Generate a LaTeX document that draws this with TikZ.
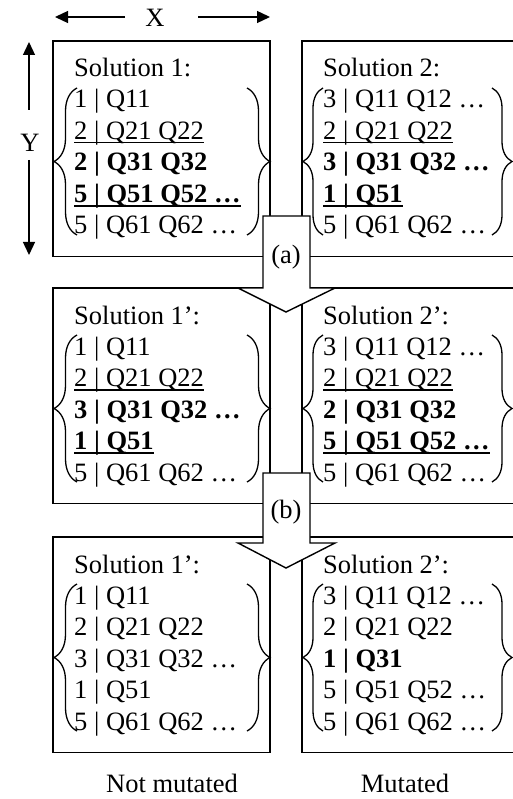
\documentclass[tikz,border=0pt]{standalone}
\usepackage{fontspec}
\setmainfont{Liberation Serif}
\usetikzlibrary{arrows.meta,decorations.pathreplacing}
\newcommand\ulnorm[1]{\setbox0=\hbox{#1}\rlap{\rule[-4pt]{\wd0}{1.2pt}}\box0}
\newcommand\ulbold[1]{\setbox0=\hbox{\bfseries #1}\rlap{\rule[-4.8pt]{\wd0}{1.9pt}}\box0}
\newcommand\solbox[9]{%
  \node[box, anchor=north west] (#1) at (#2,#3) {};
  \node[txt] (#1-t) at (#2+21,#3+36) {#4};
  \node[txt] (#1-1) at (#2+21,#3+67) {#5};
  \node[txt] (#1-2) at (#2+21,#3+98.5) {#6};
  \node[txt] (#1-3) at (#2+21,#3+130) {#7};
  \node[txt] (#1-4) at (#2+21,#3+161.5) {#8};
  \node[txt] (#1-5) at (#2+21,#3+193) {#9};
}
\newcommand\bracepair[4]{%
  \draw[brc=#4] (#1,#3+194) -- (#1,#3+47);
  \draw[brc=#4] (#2,#3+47) -- (#2,#3+194);
}
\begin{document}
\begin{tikzpicture}[x=1pt,y=-1pt,
  box/.style={draw, line width=1.4pt, minimum width=217pt, minimum height=215.5pt, inner sep=0pt, outer sep=0pt},
  txt/.style={anchor=base west, inner sep=0pt, font=\fontsize{26.5}{32}\selectfont},
  lbl/.style={anchor=base, inner sep=0pt, font=\fontsize{26.5}{32}\selectfont},
  brc/.style={line width=1.3pt, decorate, decoration={brace, amplitude=#1}},
  dimarrow/.style={line width=1.3pt, -{Triangle[length=13pt,width=12pt]}},
  blockarrow/.style={draw, fill=white, line width=1.4pt, line join=miter}
]
\useasboundingbox (0,0) rectangle (512,799);

% dimension arrows
\node[lbl] (xlab) at (155,27) {X};
\node[lbl] (ylab) at (30,152) {Y};
\coordinate (xa1) at (125,17); \coordinate (xa2) at (55,17);
\coordinate (xb1) at (198,17); \coordinate (xb2) at (270,17);
\coordinate (ya1) at (29,110); \coordinate (ya2) at (29,42);
\coordinate (yb1) at (29,160); \coordinate (yb2) at (29,255);
\draw[dimarrow] (xa1) -- (xa2);
\draw[dimarrow] (xb1) -- (xb2);
\draw[dimarrow] (ya1) -- (ya2);
\draw[dimarrow] (yb1) -- (yb2);

% row 1
\solbox{s1}{53}{41}{Solution 1:}{1 | Q11}{\ulnorm{2 | Q21 Q22}}{\bfseries 2 | Q31 Q32}{\ulbold{5 | Q51 Q52 …}}{5 | Q61 Q62 …}
\solbox{s2}{302}{41}{Solution 2:}{3 | Q11 Q12 …}{\ulnorm{2 | Q21 Q22}}{\bfseries 3 | Q31 Q32 …}{\ulbold{1 | Q51}}{5 | Q61 Q62 …}
\bracepair{77}{247}{41}{23pt}
\bracepair{323}{492}{41}{20pt}

% row 2
\solbox{s1p}{53}{288}{Solution 1’:}{1 | Q11}{\ulnorm{2 | Q21 Q22}}{\bfseries 3 | Q31 Q32 …}{\ulbold{1 | Q51}}{5 | Q61 Q62 …}
\solbox{s2p}{302}{288}{Solution 2’:}{3 | Q11 Q12 …}{\ulnorm{2 | Q21 Q22}}{\bfseries 2 | Q31 Q32}{\ulbold{5 | Q51 Q52 …}}{5 | Q61 Q62 …}
\bracepair{77}{247}{288}{23pt}
\bracepair{323}{492}{288}{20pt}

% row 3
\solbox{s1q}{53}{537}{Solution 1’:}{1 | Q11}{2 | Q21 Q22}{3 | Q31 Q32 …}{1 | Q51}{5 | Q61 Q62 …}
\solbox{s2q}{302}{537}{Solution 2’:}{3 | Q11 Q12 …}{2 | Q21 Q22}{\bfseries 1 | Q31}{5 | Q51 Q52 …}{5 | Q61 Q62 …}
\bracepair{77}{247}{537}{23pt}
\bracepair{323}{492}{537}{20pt}

% block arrows
\draw[blockarrow] (263,216) -- (310,216) -- (310,288) -- (335,288) -- (286,312) -- (238,288) -- (263,288) -- cycle;
\node[lbl] (alab) at (286,264) {(a)};
\draw[blockarrow] (263,473) -- (310,473) -- (310,543) -- (335,543) -- (286,568) -- (238,543) -- (263,543) -- cycle;
\node[lbl] (blab) at (286,518) {(b)};

% captions
\node[lbl] (nm) at (172,792) {Not mutated};
\node[lbl] (mu) at (405,792) {Mutated};
\end{tikzpicture}
\end{document}
